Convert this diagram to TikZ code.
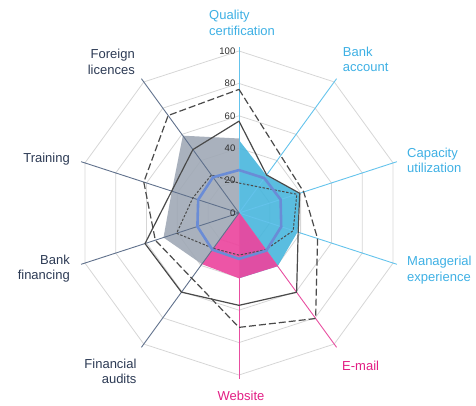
\documentclass[tikz,border=0pt]{standalone}
\usepackage{fontspec}
\setmainfont{Liberation Sans}
\definecolor{gridc}{RGB}{214,214,214}
\definecolor{axblue}{RGB}{100,195,236}
\definecolor{axslate}{RGB}{96,113,140}
\definecolor{axpink}{RGB}{232,78,160}
\definecolor{txblue}{RGB}{62,176,228}
\definecolor{txslate}{RGB}{44,58,84}
\definecolor{txpink}{RGB}{226,30,132}
\definecolor{fillgray}{RGB}{160,169,182}
\definecolor{fillblue}{RGB}{72,182,221}
\definecolor{fillpink}{RGB}{236,70,158}
\definecolor{peri}{RGB}{106,140,214}
\definecolor{linedark}{RGB}{74,74,74}
\definecolor{valtxt}{RGB}{45,45,45}

\begin{document}

\begin{tikzpicture}[x=1pt,y=1pt,
  lab/.style={inner sep=0pt,font=\fontsize{13}{15.5}\selectfont},
  vallab/.style={inner sep=0pt,anchor=east,font=\fontsize{9.5}{11}\selectfont,text=valtxt,xshift=-3.5pt},
  gridring/.style={draw=gridc,line width=0.8pt},
  axisline/.style={line width=0.9pt},
  solidser/.style={draw=linedark,line width=1.2pt,line join=round},
  dashser/.style={draw=linedark,line width=1.2pt,dash pattern=on 7pt off 3pt,line join=round},
  dotser/.style={draw=linedark,line width=1pt,dash pattern=on 2.4pt off 1.6pt,line join=round},
  periser/.style={draw=peri,line width=2.6pt,line join=round}]
\useasboundingbox (0,0) rectangle (476,405);
\begin{scope}[shift={(239pt,192pt)},x=1.62pt,y=1.62pt]
  \coordinate (c) at (0,0);
  \foreach \r in {20,40,60,80,100}{
    \draw[gridring] (90:\r) -- (54:\r) -- (18:\r) -- (-18:\r) -- (-54:\r) -- (-90:\r) -- (-126:\r) -- (-162:\r) -- (162:\r) -- (126:\r) -- cycle;
  }
  \fill[fillgray,opacity=0.9] (c) -- (90:46) -- (126:59) -- (162:43.6) -- (-162:49) -- (-126:39) -- cycle;
  \fill[fillblue,opacity=0.9] (c) -- (90:45) -- (54:28.7) -- (18:39.4) -- (-18:38) -- (-54:40.6) -- (-90:40.3) -- cycle;
  \fill[fillpink,opacity=0.92] (c) -- (-126:39) -- (-90:40.3) -- (-54:40.6) -- cycle;
  \coordinate (aQ) at (90:102.5);
  \coordinate (aBA) at (54:102.5);
  \coordinate (aCU) at (18:102.5);
  \coordinate (aME) at (-18:102.5);
  \coordinate (aEM) at (-54:102.5);
  \coordinate (aW) at (-90:102.5);
  \coordinate (aFA) at (-126:102.5);
  \coordinate (aBF) at (-162:102.5);
  \coordinate (aT) at (162:102.5);
  \coordinate (aFL) at (126:102.5);
  \draw[axisline,axblue] (c) -- (aQ);
  \draw[axisline,axblue] (c) -- (aBA);
  \draw[axisline,axblue] (c) -- (aCU);
  \draw[axisline,axblue] (c) -- (aME);
  \draw[axisline,axpink] (c) -- (aEM);
  \draw[axisline,axpink] (c) -- (aW);
  \draw[axisline,axslate] (c) -- (aFA);
  \draw[axisline,axslate] (c) -- (aBF);
  \draw[axisline,axslate] (c) -- (aT);
  \draw[axisline,axslate] (c) -- (aFL);
  \draw[dotser] (90:18.5) -- (54:20) -- (18:37.5) -- (-18:35.2) -- (-54:28) -- (-90:26) -- (-126:27) -- (-162:40.5) -- (162:30) -- (126:29) -- cycle;
  \draw[periser] (90:26.5) -- (54:26.6) -- (18:27) -- (-18:27.4) -- (-54:28.7) -- (-90:28.3) -- (-126:28) -- (-162:27) -- (162:26.5) -- (126:27.3) -- cycle;
  \draw[solidser] (90:56.7) -- (54:29) -- (18:39.4) -- (-18:38.4) -- (-54:60.5) -- (-90:57) -- (-126:60.4) -- (-162:61) -- (162:43.7) -- (126:48.4) -- cycle;
  \draw[dashser] (90:76.3) -- (54:43.8) -- (18:42) -- (-18:51) -- (-54:80.5) -- (-90:70.6) -- (-126:49.7) -- (-162:54.3) -- (162:61.8) -- (126:74.4) -- cycle;
  \node[vallab] (v100) at (90:100) {100};
  \node[vallab] (v80) at (90:80) {80};
  \node[vallab] (v60) at (90:60) {60};
  \node[vallab] (v40) at (90:40) {40};
  \node[vallab] (v20) at (90:20) {20};
  \node[vallab] (v0) at (90:0) {0};
\end{scope}
\node[lab,anchor=base west,align=left,text=txblue] (lQ) at (209,369.5) {Quality\\certification};
\node[lab,anchor=base west,align=left,text=txblue] (lBA) at (342.7,333.1) {Bank\\account};
\node[lab,anchor=base west,align=left,text=txblue] (lCU) at (407,232.1) {Capacity\\utilization};
\node[lab,anchor=base west,align=left,text=txblue] (lME) at (407,123.8) {Managerial\\experience};
\node[lab,anchor=base west,text=txpink] (lEM) at (342,34.6) {E-mail};
\node[lab,anchor=base,text=txpink] (lW) at (241,4.6) {Website};
\node[lab,anchor=base east,align=right,text=txslate] (lFA) at (136.7,21.5) {Financial\\audits};
\node[lab,anchor=base east,align=right,text=txslate] (lBF) at (70,125.5) {Bank\\financing};
\node[lab,anchor=base east,text=txslate] (lT) at (70,243) {Training};
\node[lab,anchor=base east,align=right,text=txslate] (lFL) at (135,330.5) {Foreign\\licences};
\end{tikzpicture}

\end{document}
